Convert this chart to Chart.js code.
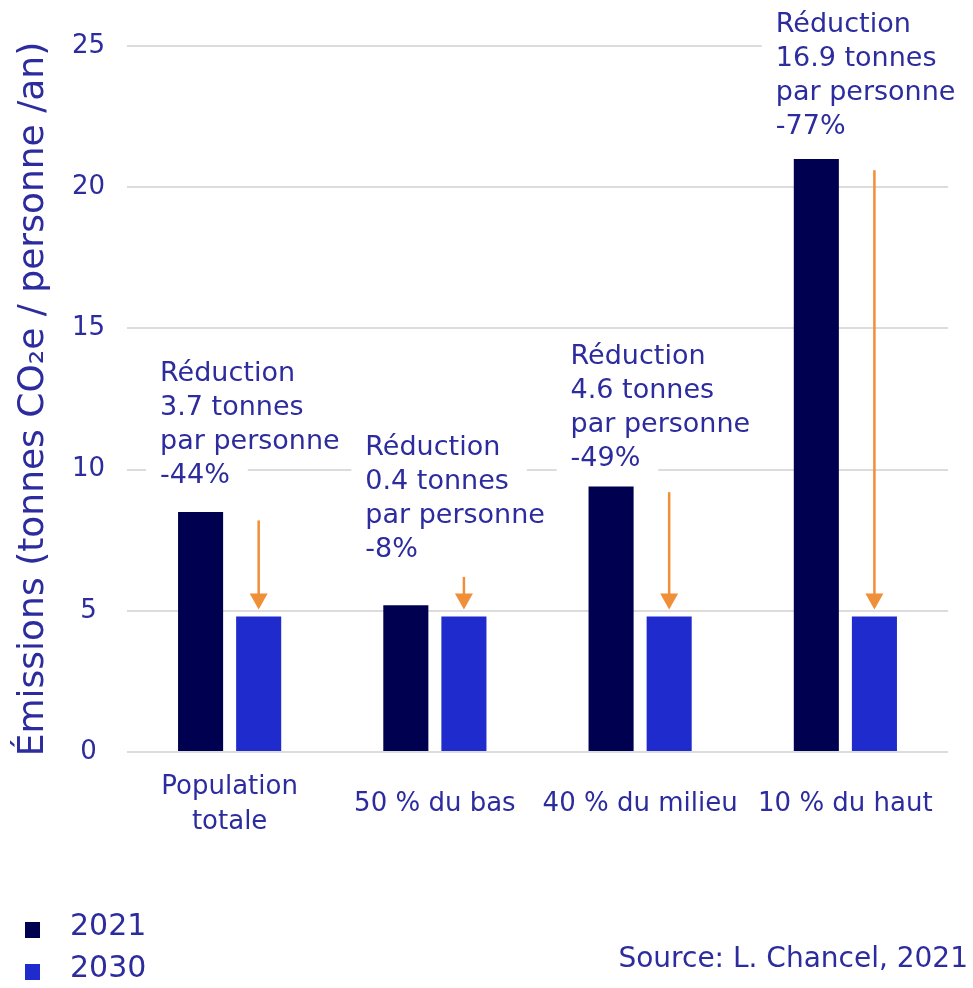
<!DOCTYPE html>
<html lang="fr">
<head>
<meta charset="utf-8">
<title>Émissions par groupe</title>
<script src="https://cdn.jsdelivr.net/npm/chart.js@4.4.1/dist/chart.umd.min.js"></script>
<style>
  html, body { margin: 0; padding: 0; background: #fff; }
  #wrap { width: 973px; height: 988px; }
</style>
</head>
<body>
<div id="wrap"><canvas id="emissionsChart" width="973" height="988"></canvas></div>
<script>
const categories = [['Population', 'totale'], '50 % du bas', '40 % du milieu', '10 % du haut'];
const years = ['2021', '2030'];
const values2021 = [8.5, 5.2, 9.4, 21.0];
const values2030 = [4.8, 4.8, 4.8, 4.8];
const reductionTonnes = ['3.7', '0.4', '4.6', '16.9'];
const reductionPct = ['-44%', '-8%', '-49%', '-77%'];
const arrowFrom = [8.2, 6.2, 9.2, 20.6];
const sourceText = 'Source: L. Chancel, 2021';

// first line of each note, in axis units
const noteTop = [13.4, 10.75, 14.0, 25.75];

const FONT = "'DejaVu Sans', sans-serif";
const TEXT = '#2c2c9e';
const ORANGE = '#ef8f38';

// notes + arrows on top of the bars
const notesPlugin = {
  id: 'notes',
  afterDatasetsDraw(chart) {
    const ctx = chart.ctx;
    const y = chart.scales.y;
    const bars21 = chart.getDatasetMeta(0).data;
    const bars30 = chart.getDatasetMeta(1).data;
    const lineH = 34;

    ctx.save();
    ctx.font = '27px ' + FONT;
    ctx.textBaseline = 'middle';
    ctx.textAlign = 'left';

    const notes = bars21.map((bar, i) => {
      const lines = ['Réduction', reductionTonnes[i] + ' tonnes', 'par personne', reductionPct[i]];
      return { x: bar.x - bar.width / 2 - 18, y0: y.getPixelForValue(noteTop[i]), lines };
    });

    // white boxes first so grid lines get cut
    ctx.fillStyle = '#fff';
    notes.forEach(n => {
      n.lines.forEach((t, k) => {
        const w = ctx.measureText(t).width;
        ctx.fillRect(n.x - 14, n.y0 + k * lineH - lineH / 2, w + 32, lineH);
      });
    });
    ctx.fillStyle = TEXT;
    notes.forEach(n => {
      n.lines.forEach((t, k) => ctx.fillText(t, n.x, n.y0 + k * lineH));
    });

    // arrows
    ctx.strokeStyle = ORANGE;
    ctx.fillStyle = ORANGE;
    ctx.lineWidth = 2.5;
    bars30.forEach((bar, i) => {
      const x = bar.x;
      const top = y.getPixelForValue(arrowFrom[i]);
      const tip = bar.y - 7;
      ctx.beginPath();
      ctx.moveTo(x, top);
      ctx.lineTo(x, tip - 14);
      ctx.stroke();
      ctx.beginPath();
      ctx.moveTo(x - 9, tip - 16);
      ctx.lineTo(x + 9, tip - 16);
      ctx.lineTo(x, tip);
      ctx.closePath();
      ctx.fill();
    });
    ctx.restore();
  },
  afterDraw(chart) {
    const ctx = chart.ctx;
    ctx.save();
    // legend, stacked in the lower left
    chart.data.datasets.forEach((ds, i) => {
      const cy = 930 + i * 42;
      ctx.fillStyle = ds.backgroundColor;
      ctx.fillRect(25, cy - 8, 15, 16);
      ctx.fillStyle = TEXT;
      ctx.font = '30px ' + FONT;
      ctx.textBaseline = 'middle';
      ctx.fillText(ds.label, 70, cy - 3);
    });
    ctx.font = '28px ' + FONT;
    ctx.textAlign = 'right';
    ctx.fillText(sourceText, 968, 960);
    ctx.restore();
  }
};

new Chart(document.getElementById('emissionsChart'), {
  type: 'bar',
  data: {
    labels: categories,
    datasets: [
      { label: years[0], data: values2021, backgroundColor: '#000050' },
      { label: years[1], data: values2030, backgroundColor: '#1f2bcc' }
    ]
  },
  options: {
    responsive: false,
    animation: false,
    devicePixelRatio: 1,
    categoryPercentage: 0.566,
    barPercentage: 0.776,
    layout: { padding: { top: 46, right: 25, bottom: 0, left: 0 } },
    plugins: { legend: { display: false }, tooltip: { enabled: false } },
    scales: {
      x: {
        grid: { display: false },
        border: { display: false },
        ticks: {
          color: TEXT,
          font: { family: FONT, size: 26, lineHeight: 1.35 },
          padding: 27,
          crossAlign: 'center',
          maxRotation: 0,
          autoSkip: false
        },
        afterFit(scale) { scale.height = 236; }
      },
      y: {
        min: 0,
        max: 25,
        grid: { color: '#dcdcdc', lineWidth: 2, drawTicks: false },
        border: { display: false },
        ticks: {
          stepSize: 5,
          color: TEXT,
          font: { family: FONT, size: 26 },
          padding: 22,
          crossAlign: 'center'
        },
        title: {
          display: true,
          text: 'Émissions (tonnes CO₂e / personne /an)',
          color: TEXT,
          font: { family: FONT, size: 36 },
          padding: { top: 12, bottom: 0 }
        },
        afterFit(scale) { scale.width = 127; }
      }
    }
  },
  plugins: [notesPlugin]
});
</script>
</body>
</html>
